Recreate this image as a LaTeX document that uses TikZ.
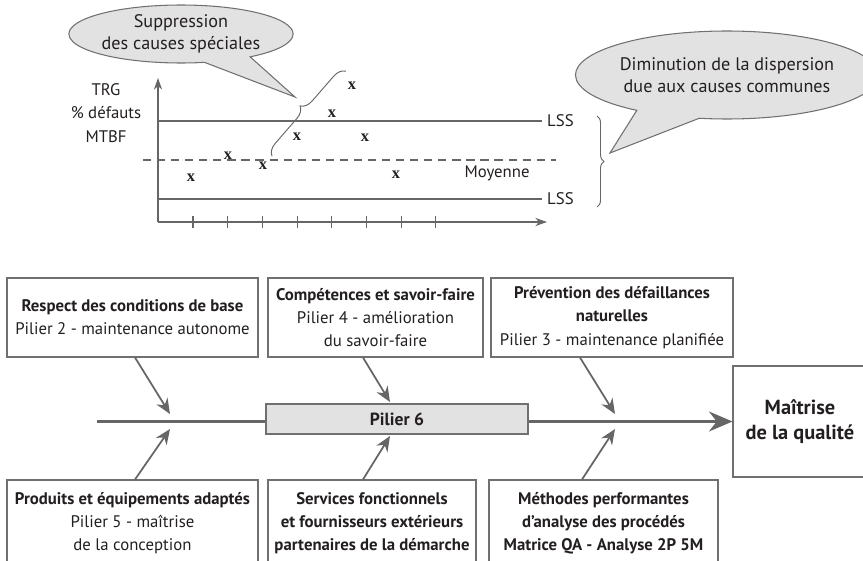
\documentclass[tikz,border=0pt]{standalone}
\usepackage{fontspec}
\setmainfont{PT Sans}
\newfontfamily\xfont{Liberation Serif}
\usetikzlibrary{arrows.meta,shapes.callouts,decorations.pathreplacing}

\definecolor{linegray}{HTML}{666666}
\definecolor{boxgray}{HTML}{707070}
\definecolor{fillgray}{HTML}{E2E2E2}
\definecolor{textgray}{HTML}{231F20}

% lengths given in pixels of the drawing
\newcommand{\px}[1]{#1*0.03cm}

\tikzset{
  txt/.style={text=textgray, font=\fontsize{14.3}{19.8}\selectfont, align=center, inner sep=0pt},
  bx/.style={txt, draw=boxgray, line width=0.9pt},
  bubble/.style={txt, font=\fontsize{15.5}{18.8}\selectfont, ellipse callout, draw=boxgray,
    fill=fillgray, line width=0.9pt, callout pointer arc=26},
  xmark/.style={text=textgray, font=\xfont\bfseries\fontsize{14}{14}\selectfont, inner sep=0pt},
  chart/.style={draw=linegray, line width=0.9pt},
  axis/.style={chart, -{Stealth[length=10pt,width=7pt]}},
  arr/.style={draw=linegray, line width=1.5pt, -{Stealth[length=13pt,width=11pt]}},
  spine/.style={draw=linegray, line width=2.4pt, -{Stealth[length=20pt,width=17pt]}}
}

\begin{document}
\begin{tikzpicture}[x=0.03cm,y=-0.03cm]

\useasboundingbox (0,0) rectangle (863,561);
\clip (0,0) rectangle (863,561);

% Axes
\draw[axis] (158,222) -- (158,78);
\draw[axis] (158,222) -- (547,222);

% Tick marks
\foreach \i in {0,...,7}
    \draw[chart] ({193+\i*34.7},216) -- ++(0,12);

% Axis label
\node[txt] (ylab) at (106,113) {TRG\\\% défauts\\MTBF};

% Limits and mean
\node[txt, anchor=west] (lsshi) at (547,121) {LSS};
\node[txt, anchor=west] (lsslo) at (547,199) {LSS};
\node[txt] (moy) at (497,173) {Moyenne};
\draw[chart] (158,121) -- (lsshi.west) [shorten >=4pt];
\draw[chart] (158,199) -- (lsslo.west) [shorten >=4pt];
\draw[linegray, line width=0.9pt, dash pattern=on 7pt off 5pt] (143,160) -- (556,160);

% Measured points
\foreach \x/\y [count=\n] in {191/178, 228/156, 263/166, 297/137, 332/114, 352/86, 365/138, 396/175}
    \node[xmark] (p\n) at (\x,\y) {x};

% Braces
\draw[linegray, line width=0.8pt, decorate, decoration={brace, amplitude=10pt}]
    (272,156) -- (346,71);
\draw[linegray, line width=0.8pt, decorate, decoration={brace, amplitude=6pt}]
    (597,116) -- (597,207);

% Callouts
\node[bubble, minimum width=\px{197}, minimum height=\px{58},
    callout absolute pointer={(295,97)}] (special) at (181,34)
    {Suppression\\des causes spéciales};
\node[bubble, minimum width=\px{270}, minimum height=\px{88},
    callout absolute pointer={(610,153)}] (commun) at (727,75)
    {Diminution de la dispersion\\due aux causes communes};

% Cause boxes, upper row
\node[bx, minimum width=\px{251}, minimum height=\px{79}] (respect) at (132.5,317.5)
    {\textbf{Respect des conditions de base}\\Pilier 2 - maintenance autonome};
\node[bx, minimum width=\px{215}, minimum height=\px{79}] (competences) at (375.5,317.5)
    {\textbf{Compétences et savoir-faire}\\Pilier 4 - amélioration\\du savoir-faire};
\node[bx, minimum width=\px{242}, minimum height=\px{79}] (prevention) at (612,317.5)
    {\textbf{Prévention des défaillances}\\\textbf{naturelles}\\Pilier 3 - maintenance planifiée};

% Cause boxes, lower row
\node[bx, minimum width=\px{251}, minimum height=\px{86}] (produits) at (132.5,523)
    {\textbf{Produits et équipements adaptés}\\Pilier 5 - maîtrise\\de la conception};
\node[bx, minimum width=\px{208}, minimum height=\px{86}] (services) at (372,523)
    {\textbf{Services fonctionnels}\\\textbf{et fournisseurs extérieurs}\\\textbf{partenaires de la démarche}};
\node[bx, minimum width=\px{229}, minimum height=\px{86}] (methodes) at (603.5,523)
    {\textbf{Méthodes performantes}\\\textbf{d'analyse des procédés}\\\textbf{Matrice QA - Analyse 2P 5M}};

% Effect
\node[bx, font=\fontsize{17.4}{21.3}\selectfont\bfseries, minimum width=\px{134}, minimum height=\px{111}]
    (maitrise) at (800,421.5) {Maîtrise\\de la qualité};

% Spine
\coordinate (tail) at (97,421.5);
\draw[spine] (tail) -- (maitrise.west);

\node[bx, fill=fillgray, font=\fontsize{15}{19.6}\selectfont\bfseries,
    minimum width=\px{262}, minimum height=\px{30}] (pilier) at (397,419) {Pilier 6};

% Arrows onto the spine
\path (respect.south) ++(2.5,0) coordinate (s1);
\path (competences.south) ++(-12.5,0) coordinate (s2);
\path (prevention.south) ++(-32,0) coordinate (s3);
\path (produits.north) ++(2.5,0) coordinate (s4);
\path (services.north) ++(-9,0) coordinate (s5);
\path (methodes.north) ++(-21.5,0) coordinate (s6);
\coordinate (t1) at (170,414);
\coordinate (t2) at (390,402);
\coordinate (t3) at (615,414);
\coordinate (t4) at (170,429);
\coordinate (t5) at (390,436);
\coordinate (t6) at (615,429);
\foreach \n in {1,...,6}
    \draw[arr] (s\n) -- (t\n);

\end{tikzpicture}
\end{document}
